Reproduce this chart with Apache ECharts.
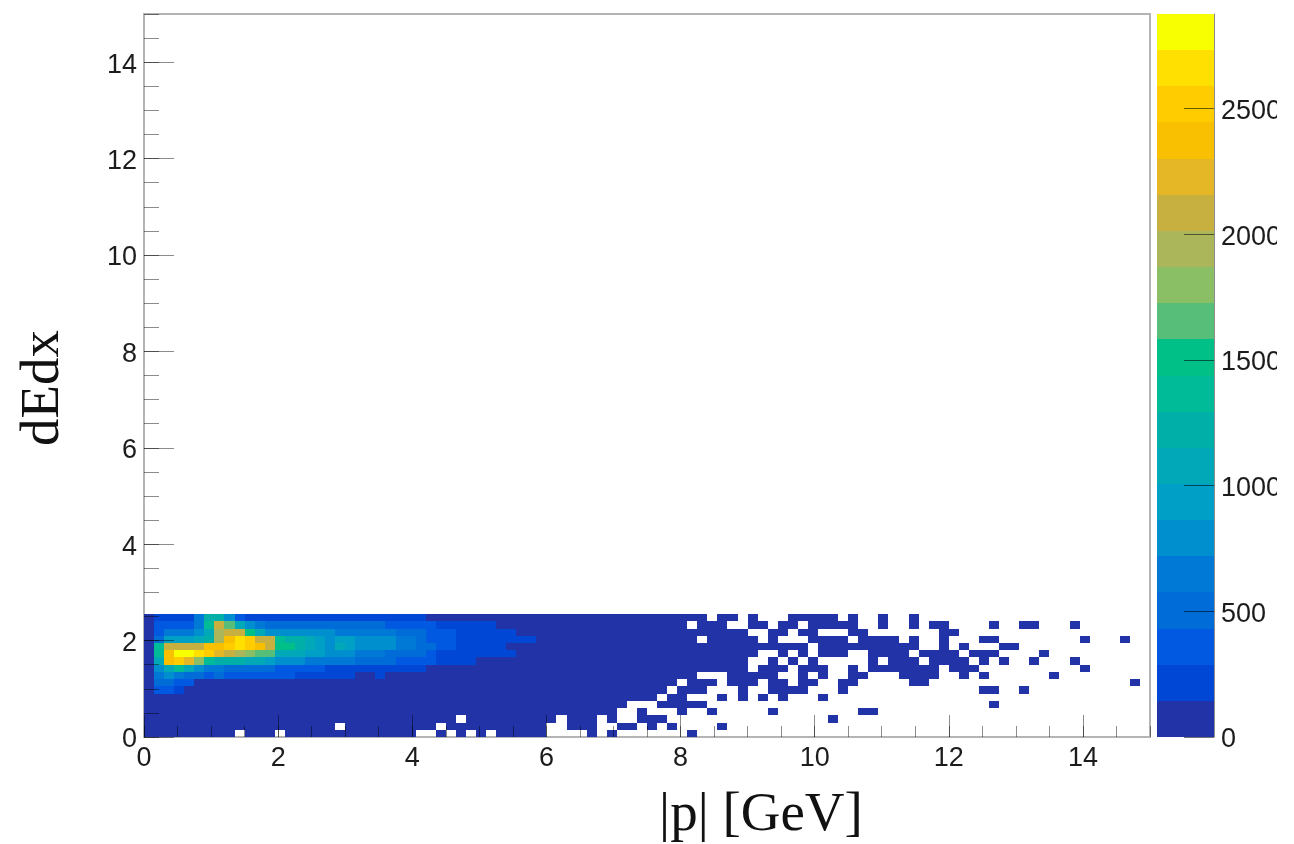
<!DOCTYPE html>
<html>
<head>
<meta charset="utf-8">
<script src="https://cdn.jsdelivr.net/npm/echarts@6/dist/echarts.min.js"></script>
<style>html,body{margin:0;padding:0;background:#fff}#c{width:1277px;height:844px;filter:blur(0.7px)}</style>
</head>
<body>
<div id="c"></div>
<script>
// Histogram: 100 x 100 bins, p 0-15, dEdx 0-15. Each row (bottom to top) lists [first bin, count]; a run lasts until the next entry. Count 0 = empty bin.
const row00=[[0,70],[9,0],[10,70],[13,0],[14,70],[27,0],[29,70],[30,0],[31,70],[32,0],[33,70],[34,0],[35,70],[40,0],[44,70],[45,0],[46,70],[47,0],[54,70],[55,0]];
const row01=[[0,70],[19,0],[20,70],[29,0],[30,70],[40,0],[42,70],[45,0],[47,70],[49,0],[50,70],[51,0],[52,70],[53,0],[57,70],[58,0]];
const row02=[[0,70],[31,0],[32,70],[41,0],[42,70],[45,0],[46,70],[47,0],[49,70],[52,0],[68,70],[69,0]];
const row03=[[0,70],[47,0],[49,70],[50,0],[53,70],[54,0],[56,70],[57,0],[62,70],[63,0],[71,70],[73,0]];
const row04=[[0,70],[48,0],[51,70],[56,0],[84,70],[85,0]];
const row05=[[0,70],[51,0],[52,70],[54,0],[57,70],[58,0],[59,70],[60,0],[61,70],[62,0],[63,70],[64,0],[67,70],[68,0]];
const row06=[[0,70],[1,360],[3,220],[4,70],[52,0],[53,70],[56,0],[59,70],[60,0],[62,70],[66,0],[69,70],[70,0],[83,70],[85,0],[87,70],[88,0]];
const row07=[[0,70],[1,500],[3,360],[5,70],[53,0],[54,70],[57,0],[58,70],[61,0],[62,70],[64,0],[65,70],[67,0],[69,70],[71,0],[76,70],[78,0],[98,70],[99,0]];
const row08=[[0,70],[1,650],[2,790],[3,650],[4,500],[6,360],[7,500],[8,360],[15,220],[21,70],[23,220],[24,70],[55,0],[58,70],[63,0],[65,70],[66,0],[67,70],[68,0],[70,70],[72,0],[75,70],[79,0],[81,70],[82,0],[83,70],[84,0],[90,70],[91,0]];
const row09=[[0,70],[1,790],[2,1080],[3,1370],[4,1080],[5,790],[6,650],[8,500],[13,360],[18,220],[28,70],[60,0],[61,70],[64,0],[65,70],[68,0],[70,70],[71,0],[72,70],[79,0],[80,70],[83,0],[93,70],[94,0]];
const row10=[[0,70],[1,1080],[2,2370],[3,2520],[4,2230],[5,1800],[6,1370],[7,1220],[10,1080],[12,940],[13,790],[16,650],[21,500],[25,360],[29,220],[33,70],[60,0],[62,70],[63,0],[64,70],[65,0],[66,70],[67,0],[72,70],[73,0],[74,70],[77,0],[78,70],[82,0],[83,70],[84,0],[85,70],[86,0],[88,70],[89,0],[92,70],[93,0]];
const row11=[[0,70],[1,1370],[2,2370],[3,2800],[5,2660],[6,2520],[7,2230],[8,2080],[9,1940],[10,1800],[11,1650],[13,1080],[16,940],[18,790],[21,650],[24,500],[28,360],[29,220],[37,70],[61,0],[63,70],[64,0],[65,70],[66,0],[67,70],[70,0],[72,70],[76,0],[77,70],[81,0],[82,70],[85,0],[89,70],[90,0]];
const row12=[[0,70],[1,1370],[2,2080],[6,2370],[8,2520],[9,2660],[10,2520],[11,2370],[12,2080],[13,1510],[15,1220],[16,1080],[17,940],[18,790],[19,1080],[20,940],[21,790],[25,650],[27,500],[29,360],[31,220],[36,70],[66,0],[67,70],[77,0],[79,70],[80,0],[81,70],[82,0],[85,70],[87,0]];
const row13=[[0,70],[1,500],[2,940],[5,1080],[6,1220],[7,1940],[8,2370],[9,2660],[10,2520],[11,2080],[13,1370],[14,1220],[16,1080],[17,940],[18,790],[19,940],[21,790],[25,650],[27,500],[28,360],[31,220],[39,70],[55,0],[56,70],[61,0],[62,70],[63,0],[66,70],[70,0],[71,70],[75,0],[76,70],[77,0],[79,70],[80,0],[83,70],[85,0],[93,70],[94,0],[97,70],[98,0]];
const row14=[[0,70],[1,360],[2,650],[5,790],[6,1080],[7,1940],[8,2080],[10,1510],[11,1080],[12,790],[19,650],[25,500],[28,360],[31,220],[37,70],[60,0],[62,70],[64,0],[65,70],[67,0],[70,70],[72,0],[79,70],[81,0]];
const row15=[[0,70],[1,360],[5,650],[6,1370],[7,2080],[8,1650],[9,1080],[10,790],[11,650],[12,500],[24,360],[29,220],[35,70],[54,0],[55,70],[58,0],[60,70],[62,0],[63,70],[65,0],[66,70],[71,0],[73,70],[74,0],[76,70],[77,0],[78,70],[80,0],[84,70],[85,0],[87,70],[89,0],[92,70],[93,0]];
const row16=[[0,70],[1,220],[5,650],[6,1220],[8,790],[9,360],[10,220],[28,70],[56,0],[57,70],[59,0],[60,70],[61,0],[64,70],[69,0],[70,70],[71,0],[73,70],[74,0],[76,70],[77,0]];
const rows=[row00,row01,row02,row03,row04,row05,row06,row07,row08,row09,row10,row11,row12,row13,row14,row15,row16];

const binCount=100;
const binWidth=0.15;
const axisMax=15;
const zMax=2876;
const xTickValues=[0,2,4,6,8,10,12,14];
const yTickValues=[0,2,4,6,8,10,12,14];
const minorStep=0.5;
const zTickValues=[0,500,1000,1500,2000,2500];
const palette=['#2233A8','#0047D6','#0059E0','#006CD8','#0078D6','#008FCE','#00A0C6','#00A8B8','#00B0A8','#00BB97','#00C088','#57BE7A','#8ABF66','#ABB65A','#C8B040','#E5B625','#F8C000','#FFCC00','#FFE000','#F8FF00'];

const step=zMax/palette.length;
const bandOf=v=>Math.min(palette.length-1,Math.floor(v/step));
const cells=[];
rows.forEach((runs,r)=>{
  runs.forEach((run,i)=>{
    const end=i+1<runs.length?runs[i+1][0]:binCount;
    if(run[1]>0) for(let c=run[0];c<end;c++) cells.push([c,r,run[1]]);
  });
});
const barCells=palette.map((_,i)=>[0,i,(i+0.5)*step]);

// rectangle between two data corners, snapped to whole pixels so neighbours share an edge
const snappedRect=(api,x0,y0,x1,y1,fill)=>{
  const a=api.coord([x0,y0]), b=api.coord([x1,y1]);
  const l=Math.round(a[0]), r=Math.round(b[0]), t=Math.round(b[1]), u=Math.round(a[1]);
  return {type:'rect',shape:{x:l,y:t,width:r-l,height:u-t},style:{fill}};
};
const drawBin=(p,api)=>{
  const c=api.value(0), r=api.value(1);
  return snappedRect(api,c*binWidth,r*binWidth,(c+1)*binWidth,(r+1)*binWidth,palette[bandOf(api.value(2))]);
};
const drawBand=(p,api)=>{
  const i=api.value(1);
  return snappedRect(api,0,i*step,1,(i+1)*step,palette[bandOf(api.value(2))]);
};

const LABEL={fontFamily:'"Liberation Sans",Arial,sans-serif',fontSize:27,color:'#1c1c1c'};
const SHIFTED={verticalAlign:'top',lineHeight:6};
const TICK='rgba(0,0,0,0.45)';
const valAxis=(extra)=>Object.assign({type:'value',gridIndex:0,min:0,max:axisMax,splitLine:{show:false},z:5,axisLine:{show:false}},extra);

const chart=echarts.init(document.getElementById('c'),null,{renderer:'canvas'});
chart.setOption({
  backgroundColor:'#fff',
  animation:false,
  grid:[
    {left:144,top:14,width:1006,height:723,outerBoundsMode:'none',show:true,borderColor:'#b4b4b4',borderWidth:2,backgroundColor:'#fff'},
    {left:1157,top:14,width:57,height:723,outerBoundsMode:'none'}
  ],
  xAxis:[
    valAxis({position:'bottom',interval:2,
      axisTick:{show:true,inside:true,length:22,customValues:xTickValues,lineStyle:{color:TICK,width:1}},
      axisLabel:{show:true,customValues:xTickValues,margin:8,...LABEL}}),
    valAxis({position:'bottom',interval:minorStep,
      axisTick:{show:true,inside:true,length:11,lineStyle:{color:TICK,width:1}},
      axisLabel:{show:false}}),
    {type:'value',gridIndex:1,min:0,max:1,show:false}
  ],
  yAxis:[
    valAxis({position:'left',interval:2,
      axisTick:{show:true,inside:true,length:30,customValues:yTickValues,lineStyle:{color:TICK,width:1}},
      axisLabel:{show:true,customValues:yTickValues,margin:7,...LABEL,...SHIFTED}}),
    valAxis({position:'left',interval:minorStep,
      axisTick:{show:true,inside:true,length:15,lineStyle:{color:TICK,width:1}},
      axisLabel:{show:false}}),
    {type:'value',gridIndex:1,position:'right',min:0,max:zMax,interval:500,z:5,splitLine:{show:false},
      axisLine:{show:true,onZero:false,lineStyle:{color:'rgba(0,0,0,0.45)',width:1}},
      axisTick:{show:true,inside:true,length:30,customValues:zTickValues,lineStyle:{color:'rgba(0,0,0,0.55)',width:1}},
      axisLabel:{show:true,customValues:zTickValues,margin:7,formatter:v=>String(v),...LABEL,...SHIFTED}}
  ],
  series:[
    {type:'custom',xAxisIndex:0,yAxisIndex:0,data:cells,silent:true,progressive:0,clip:false,renderItem:drawBin},
    {type:'custom',xAxisIndex:2,yAxisIndex:2,data:barCells,silent:true,progressive:0,clip:false,renderItem:drawBand}
  ],
  graphic:[
    {type:'text',x:761,y:816,z:10,style:{text:'|p| [GeV]',font:'55px "Liberation Serif","Times New Roman",serif',fill:'#111',align:'center',verticalAlign:'middle'}},
    {type:'text',x:44,y:388,rotation:Math.PI/2,z:10,style:{text:'dEdx',font:'55px "Liberation Serif","Times New Roman",serif',fill:'#111',align:'center',verticalAlign:'middle'}}
  ]
});
</script>
</body>
</html>
